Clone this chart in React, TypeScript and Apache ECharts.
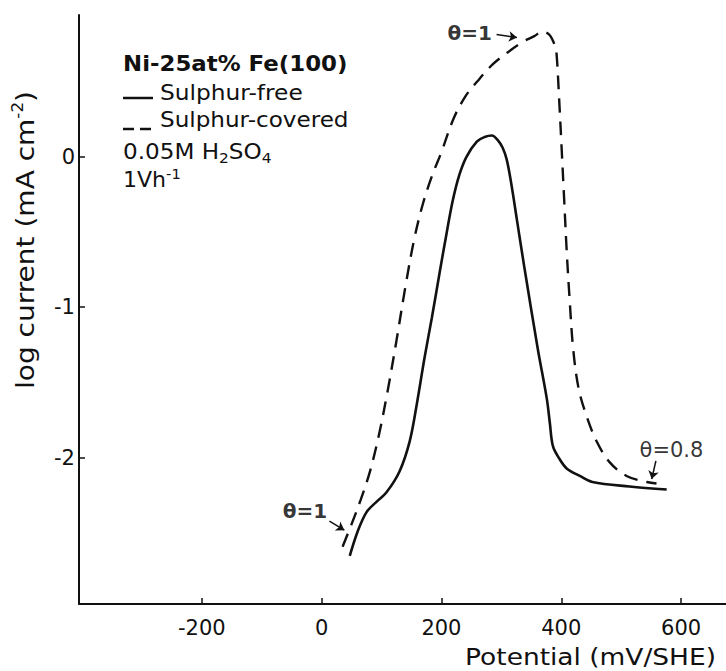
import React, { useEffect, useRef } from "react";
import * as echarts from "echarts";

// ---- data ----
const solidX = [47, 60, 75, 92, 108, 130, 147, 159, 172, 184, 197, 209, 219, 230, 242, 259, 272, 284, 294, 302, 309, 317, 326, 339, 361, 376, 381, 386, 396, 409, 431, 452, 514, 576];
const solidY = [-2.65, -2.49, -2.36, -2.29, -2.23, -2.09, -1.89, -1.64, -1.33, -1.07, -0.77, -0.5, -0.29, -0.12, 0.0, 0.1, 0.13, 0.14, 0.11, 0.06, -0.02, -0.19, -0.42, -0.75, -1.28, -1.61, -1.77, -1.92, -2.0, -2.07, -2.12, -2.16, -2.19, -2.21];

const dashX = [35, 50, 65, 80, 95, 110, 125, 140, 155, 170, 185, 200, 220, 240, 260, 285, 310, 335, 355, 369, 380, 386, 389, 392, 396.5, 400.7, 404.8, 409, 414, 420, 429, 442, 459, 481, 509, 543, 559];
const dashY = [-2.59, -2.44, -2.28, -2.1, -1.86, -1.56, -1.22, -0.86, -0.54, -0.3, -0.12, 0.03, 0.25, 0.4, 0.5, 0.61, 0.69, 0.76, 0.8, 0.83, 0.81, 0.77, 0.74, 0.69, 0.38, 0.05, -0.28, -0.62, -0.95, -1.28, -1.54, -1.72, -1.89, -2.03, -2.12, -2.16, -2.17];

const xTicks = [-200, 0, 200, 400, 600];
const yTicks = [-2, -1, 0];

const annotText = ["θ=1", "θ=1", "θ=0.8"];
const annotX = [247, -28, 584];
const annotY = [0.82, -2.35, -1.95];
const annotBold = [true, true, false];

const arrowFromX = [292, 13, 558];
const arrowFromY = [0.81, -2.42, -2.02];
const arrowToX = [326, 38, 551];
const arrowToY = [0.79, -2.48, -2.14];

const FONT = "DejaVu Sans";
const INK = "#111";

export default function App() {
  const ref = useRef<HTMLDivElement>(null);

  useEffect(() => {
    if (!ref.current) return;
    const chart = echarts.init(ref.current, null, { renderer: "svg" });

    const option: any = {
      animation: false,
      backgroundColor: "#fff",
      grid: { left: 79, top: 15, right: 0, bottom: 67 },
      xAxis: {
        type: "value",
        min: -405,
        max: 675,
        axisLine: { show: true, onZero: false, lineStyle: { color: INK, width: 2 } },
        axisTick: { show: true, inside: true, length: 6, lineStyle: { color: INK, width: 1.5 }, customValues: xTicks },
        axisLabel: { customValues: xTicks, fontSize: 21, fontFamily: FONT, color: INK, margin: 13 },
        splitLine: { show: false },
      },
      yAxis: {
        type: "value",
        min: -2.97,
        max: 0.94,
        axisLine: { show: true, onZero: false, lineStyle: { color: INK, width: 2 } },
        axisTick: { show: true, inside: true, length: 6, lineStyle: { color: INK, width: 1.5 }, customValues: yTicks },
        axisLabel: { customValues: yTicks, fontSize: 21, fontFamily: FONT, color: INK, margin: 4 },
        splitLine: { show: false },
      },
      series: [
        {
          name: "Sulphur-free",
          type: "line",
          data: solidX.map((x, i) => [x, solidY[i]]),
          symbol: "none",
          smooth: 0.35,
          lineStyle: { color: INK, width: 2.6 },
          z: 3,
        },
        {
          name: "Sulphur-covered",
          type: "line",
          data: dashX.map((x, i) => [x, dashY[i]]),
          symbol: "none",
          smooth: 0.35,
          lineStyle: { color: INK, width: 2.4, type: [14, 9] },
          z: 3,
        },
        {
          name: "annotations",
          type: "scatter",
          data: annotX.map((x, i) => ({
            value: [x, annotY[i]],
            label: annotBold[i] ? { fontWeight: "bold", fontSize: 20 } : { fontWeight: "normal", fontSize: 21 },
          })),
          symbolSize: 1,
          itemStyle: { color: "rgba(0,0,0,0)" },
          label: {
            show: true,
            position: "inside",
            formatter: (p: any) => annotText[p.dataIndex],
            fontSize: 20,
            fontFamily: FONT,
            color: "#000",
            textBorderWidth: 0,
            textBorderColor: "transparent",
          },
          markLine: {
            silent: true,
            symbol: ["none", "arrow"],
            symbolSize: 8,
            label: { show: false },
            lineStyle: { color: INK, width: 1.5, type: "solid" },
            data: arrowFromX.map((x, i) => [
              { coord: [x, arrowFromY[i]] },
              { coord: [arrowToX[i], arrowToY[i]] },
            ]),
          },
        },
      ],
      graphic: [
        {
          type: "text",
          x: 123,
          y: 63,
          scaleX: 1.04,
          style: { text: "Ni-25at% Fe(100)", fontSize: 22, fontWeight: "bold", fontFamily: FONT, fill: INK, align: "left", verticalAlign: "middle" },
        },
        { type: "line", shape: { x1: 123, y1: 98, x2: 153, y2: 98 }, style: { stroke: INK, lineWidth: 2.5 } },
        {
          type: "text",
          x: 160,
          y: 92,
          scaleX: 1.11,
          style: { text: "Sulphur-free", fontSize: 21, fontFamily: FONT, fill: INK, align: "left", verticalAlign: "middle" },
        },
        { type: "line", shape: { x1: 123, y1: 129, x2: 134, y2: 129 }, style: { stroke: INK, lineWidth: 2.5 } },
        { type: "line", shape: { x1: 140, y1: 129, x2: 151, y2: 129 }, style: { stroke: INK, lineWidth: 2.5 } },
        {
          type: "text",
          x: 160,
          y: 120,
          scaleX: 1.1,
          style: { text: "Sulphur-covered", fontSize: 21, fontFamily: FONT, fill: INK, align: "left", verticalAlign: "middle" },
        },
        {
          type: "text",
          x: 123,
          y: 152,
          scaleX: 1.1,
          style: {
            text: "{n|0.05M H}{b|2}{n|SO}{b|4}",
            fill: INK,
            align: "left",
            verticalAlign: "middle",
            rich: {
              n: { fontSize: 21, fontFamily: FONT, fill: INK, lineHeight: 26, verticalAlign: "middle" },
              b: { fontSize: 14, fontFamily: FONT, fill: INK, lineHeight: 14, verticalAlign: "bottom" },
            },
          },
        },
        {
          type: "text",
          x: 123,
          y: 180,
          scaleX: 1.05,
          style: {
            text: "{n|1Vh}{p|-1}",
            fill: INK,
            align: "left",
            verticalAlign: "middle",
            rich: {
              n: { fontSize: 21, fontFamily: FONT, fill: INK, lineHeight: 26, verticalAlign: "middle" },
              p: { fontSize: 14, fontFamily: FONT, fill: INK, lineHeight: 14, verticalAlign: "top" },
            },
          },
        },
        {
          type: "text",
          x: 25,
          y: 240,
          rotation: Math.PI / 2,
          scaleX: 1.12,
          style: {
            text: "{a|log current (mA cm}{s|-2}{a|)}",
            fill: INK,
            align: "center",
            verticalAlign: "middle",
            rich: {
              a: { fontSize: 25, fontFamily: FONT, fill: INK, lineHeight: 30, verticalAlign: "middle" },
              s: { fontSize: 15, fontFamily: FONT, fill: INK, lineHeight: 15, verticalAlign: "top" },
            },
          },
        },
        {
          type: "text",
          x: 716,
          y: 657,
          scaleX: 1.15,
          style: { text: "Potential (mV/SHE)", fontSize: 23, fontFamily: FONT, fill: INK, align: "right", verticalAlign: "middle" },
        },
      ],
    };

    chart.setOption(option);
    return () => chart.dispose();
  }, []);

  return <div ref={ref} style={{ width: 726, height: 671, position: "absolute", left: 0, top: 0 }} />;
}
